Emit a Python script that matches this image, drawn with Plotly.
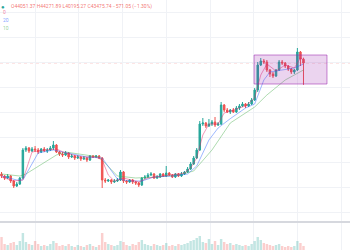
import plotly.graph_objects as go

# ---------------- data ----------------
opens = [26825, 26525, 26225, 26525, 25775, 25025, 25325, 26225, 30425, 30725,
         30275, 30575, 30425, 30125, 30575, 30275, 30425, 30725, 31175, 30125,
         29825, 29675, 29975, 29375, 29525, 29225, 29375, 29075, 29225, 28925,
         29525, 29375, 29525, 29225, 25925, 25775, 25925, 25625, 25775, 25925,
         27125, 25775, 25625, 25925, 25625, 25475, 25175, 26225, 26375, 26675,
         26825, 26225, 26375, 26825, 26525, 26975, 26675, 26375, 26825, 26525,
         26825, 27125, 27575, 28325, 29225, 30425, 34325, 34475, 34025, 34325,
         34625, 34175, 34325, 37175, 36425, 36125, 36425, 36125, 36725, 37025,
         37325, 37025, 37325, 37925, 39425, 43175, 43775, 43625, 42425, 41825,
         41525, 42425, 43625, 43475, 43025, 42575, 42125, 42425, 45125, 44051.37]
highs = [27125, 26675, 26825, 26675, 25925, 25625, 26375, 30725, 31025, 30875,
         30875, 31025, 30725, 30725, 30875, 30725, 31025, 31775, 31325, 30275,
         30125, 30275, 30125, 29825, 29675, 29675, 29525, 29525, 29375, 29675,
         29675, 29675, 29675, 29375, 26225, 26075, 26075, 26075, 26225, 27425,
         27275, 25925, 26075, 26075, 25775, 25625, 26375, 26675, 26975, 27125,
         26975, 26675, 26975, 26975, 28025, 27125, 26825, 26975, 26975, 27125,
         27275, 27875, 28625, 29525, 30725, 34775, 35225, 34625, 35075, 34925,
         35375, 34625, 37625, 37325, 36725, 36575, 36725, 37025, 37325, 37625,
         37475, 37625, 38225, 39725, 43625, 44225, 44075, 43925, 42575, 42125,
         42575, 43925, 43925, 43625, 43175, 42725, 42575, 45725, 45275, 44271.89]
lows = [26225, 25925, 26075, 25475, 24725, 24875, 25175, 26075, 30125, 29975,
        30125, 30125, 29825, 29975, 30125, 29975, 30275, 30425, 29975, 29525,
        29375, 29525, 29075, 29225, 28925, 29075, 28775, 28925, 28625, 28775,
        29225, 29225, 29075, 24725, 25475, 25625, 25325, 25475, 25625, 25775,
        25475, 25325, 25475, 25325, 25175, 24875, 25025, 26075, 26225, 26525,
        26075, 26075, 26225, 26375, 26375, 26525, 26225, 26225, 26375, 26375,
        26675, 26975, 27425, 28175, 29075, 30275, 34025, 33725, 33875, 34025,
        33875, 34025, 34175, 36125, 35975, 35825, 35975, 35975, 36425, 36875,
        36725, 36875, 37175, 37775, 39125, 43025, 43325, 42125, 41375, 41225,
        41375, 42275, 43175, 42725, 42275, 41825, 41825, 42275, 43025, 40195.27]
closes = [26525, 26225, 26525, 25775, 25025, 25325, 26225, 30425, 30725, 30275,
          30575, 30425, 30125, 30575, 30275, 30425, 30725, 31175, 30125, 29825,
          29675, 29975, 29375, 29525, 29225, 29375, 29075, 29225, 28925, 29525,
          29375, 29525, 29225, 25925, 25775, 25925, 25625, 25775, 25925, 27125,
          25775, 25625, 25925, 25625, 25475, 25175, 26225, 26375, 26675, 26825,
          26225, 26375, 26825, 26525, 26975, 26675, 26375, 26825, 26525, 26825,
          27125, 27575, 28325, 29225, 30425, 34325, 34475, 34025, 34325, 34625,
          34175, 34325, 37175, 36425, 36125, 36425, 36125, 36725, 37025, 37325,
          37025, 37325, 37925, 39425, 43175, 43775, 43625, 42425, 41825, 41525,
          42425, 43625, 43475, 43025, 42575, 42125, 42425, 45125, 44075, 43475.74]
volumes = [13, 6, 5, 7, 8, 5, 9, 17, 8, 6,
           5, 9, 6, 4, 5, 4, 6, 9, 7, 4,
           5, 4, 6, 4, 3, 5, 4, 3, 5, 6,
           4, 3, 5, 17, 8, 6, 5, 4, 5, 9,
           8, 5, 4, 6, 5, 8, 10, 6, 5, 4,
           6, 5, 4, 5, 7, 4, 5, 4, 6, 5,
           6, 7, 9, 10, 12, 14, 8, 7, 11, 6,
           9, 5, 11, 8, 6, 7, 5, 6, 5, 4,
           5, 4, 6, 9, 13, 10, 7, 6, 5, 4,
           5, 6, 4, 3, 4, 3, 4, 9, 7, 4]
volumes = [v * 1000 for v in volumes]

# moving average lines (knots)
ma_fast_x = [0, 4, 7, 8, 10, 14, 18, 21, 26, 31, 33, 35, 37, 40, 45, 48, 55, 60, 62, 64,
             66, 68, 71, 73, 76, 80, 83, 85, 87, 90, 93, 96, 98, 99]
ma_fast_y = [26375, 25775, 25925, 27425, 30125, 30425, 30575, 29975, 29375, 29375,
             28925, 26675, 25775, 26225, 25625, 26225, 26675, 26975, 27725, 29225,
             32675, 34325, 34325, 35975, 36425, 37025, 38225, 41675, 43325, 42275,
             43175, 42725, 44225, 43925]
ma_mid_x = [0, 5, 7, 12, 17, 22, 28, 33, 38, 42, 46, 50, 56, 61, 64, 68, 71, 75, 80, 83,
            86, 88, 92, 96, 99]
ma_mid_y = [26525, 25925, 25925, 29975, 30425, 29975, 29375, 29225, 26075, 25775,
            25775, 26375, 26525, 26825, 28025, 31925, 33725, 35125, 36725, 37325,
            40925, 42125, 42425, 42725, 43325]
ma_slow_x = [0, 6, 8, 18, 21, 32, 38, 44, 51, 58, 63, 69, 75, 83, 87, 93, 99]
ma_slow_y = [26825, 26525, 26825, 29675, 30125, 29375, 26525, 26225, 26375, 26675,
             27275, 30425, 34475, 36875, 38675, 40925, 42425]

box_x = [82.8, 106.7]
box_y = [40325, 44675]

header = "O44051.37 H44271.89 L40195.27 C43475.74 −571.05 (−1.30%)"
ma_labels = ["0", "20", "10"]

UP = "#26a69a"
DOWN = "#ef5350"

n = len(closes)
xs = list(range(n))

fig = go.Figure()

fig.add_trace(go.Candlestick(
    x=xs, open=opens, high=highs, low=lows, close=closes,
    increasing=dict(line=dict(color=UP, width=1), fillcolor=UP),
    decreasing=dict(line=dict(color=DOWN, width=1), fillcolor=DOWN),
    whiskerwidth=0, showlegend=False, hoverinfo="skip",
    xaxis="x", yaxis="y",
))

fig.add_trace(go.Scatter(x=ma_slow_x, y=ma_slow_y, mode="lines",
                         line=dict(color="rgba(76,175,80,0.45)", width=1),
                         showlegend=False, hoverinfo="skip"))
fig.add_trace(go.Scatter(x=ma_mid_x, y=ma_mid_y, mode="lines",
                         line=dict(color="rgba(41,98,255,0.45)", width=1),
                         showlegend=False, hoverinfo="skip"))
fig.add_trace(go.Scatter(x=ma_fast_x, y=ma_fast_y, mode="lines",
                         line=dict(color="rgba(233,30,99,0.45)", width=1),
                         showlegend=False, hoverinfo="skip"))

vol_colors = ["rgba(38,166,154,0.28)" if c >= o else "rgba(239,83,80,0.28)"
              for o, c in zip(opens, closes)]
fig.add_trace(go.Bar(x=xs, y=volumes, marker=dict(color=vol_colors, line=dict(width=0)),
                     width=0.8, showlegend=False, hoverinfo="skip",
                     xaxis="x2", yaxis="y2"))

# rectangle drawing
fig.add_shape(type="rect", xref="x", yref="y",
              x0=box_x[0], x1=box_x[1], y0=box_y[0], y1=box_y[1],
              fillcolor="rgba(156,39,176,0.2)",
              line=dict(color="rgba(156,39,176,0.55)", width=1), layer="above")

# last price line
fig.add_shape(type="line", xref="paper", yref="y", x0=0, x1=1,
              y0=closes[-1], y1=closes[-1],
              line=dict(color="rgba(239,83,80,0.3)", width=1, dash="dot"), layer="below")

# pane separator
fig.add_shape(type="line", xref="paper", yref="paper", x0=0, x1=1, y0=0.112, y1=0.112,
              line=dict(color="#d6d8de", width=2))

grid = "#f0f2f6"
fig.update_layout(
    width=350, height=250,
    margin=dict(l=0, r=0, t=0, b=0),
    paper_bgcolor="white", plot_bgcolor="white",
    showlegend=False,
    xaxis=dict(domain=[0, 1], range=[-0.5, 114.25], anchor="y",
               showticklabels=False, showgrid=True, gridcolor=grid, gridwidth=1,
               tick0=11, dtick=14.35, zeroline=False, rangeslider=dict(visible=False),
               showline=False, ticks=""),
    xaxis2=dict(domain=[0, 1], range=[-0.5, 114.25], anchor="y2", matches="x",
                showticklabels=False, showgrid=True, gridcolor=grid,
                tick0=11, dtick=14.35, zeroline=False, showline=False, ticks=""),
    yaxis=dict(domain=[0.116, 1], range=[19775, 52925], showticklabels=False,
               showgrid=True, gridcolor=grid, tick0=39875, dtick=3750,
               zeroline=False, showline=False, ticks=""),
    yaxis2=dict(domain=[0, 0.108], range=[0, 27000], showticklabels=False,
                showgrid=False, zeroline=False, showline=False, ticks=""),
    font=dict(family="Roboto"),
)

fig.add_annotation(xref="paper", yref="paper", x=3 / 350, y=1 - 6 / 250,
                   text="●", showarrow=False, xanchor="center", yanchor="middle",
                   font=dict(size=6, color="#26a69a"))
fig.add_annotation(xref="paper", yref="paper", x=9 / 350, y=1 - 6 / 250,
                   text=header, showarrow=False, xanchor="left", yanchor="middle",
                   font=dict(size=5, color="rgba(239,83,80,0.8)"))
label_colors = ["rgba(233,30,99,0.6)", "rgba(41,98,255,0.6)", "rgba(76,175,80,0.6)"]
label_y = [12, 20, 28]
for t, c, yy in zip(ma_labels, label_colors, label_y):
    fig.add_annotation(xref="paper", yref="paper", x=1 / 350, y=1 - yy / 250,
                       text=t, showarrow=False, xanchor="left", yanchor="middle",
                       font=dict(size=5, color=c))

fig.write_html("out.html")
